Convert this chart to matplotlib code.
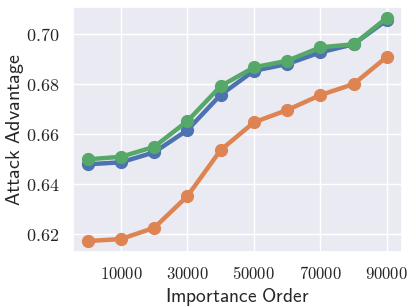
import numpy as np
import matplotlib
matplotlib.use("Agg")
import matplotlib.pyplot as plt
import seaborn as sns

sns.set_theme(style="darkgrid", palette="deep")
plt.rcParams["mathtext.fontset"] = "cm"

order = [0, 10000, 20000, 30000, 40000, 50000, 60000, 70000, 80000, 90000]
blue_vals = [0.6479, 0.6487, 0.6527, 0.6616, 0.6757, 0.6853, 0.6880, 0.6927, 0.6959, 0.7056]
orange_vals = [0.6172, 0.6180, 0.6225, 0.6352, 0.6536, 0.6647, 0.6696, 0.6756, 0.6800, 0.6909]
green_vals = [0.6499, 0.6509, 0.6549, 0.6652, 0.6792, 0.6867, 0.6893, 0.6947, 0.6959, 0.7065]
xticks = [10000, 30000, 50000, 70000, 90000]
yticks = [0.62, 0.64, 0.66, 0.68, 0.70]

colors = sns.color_palette("deep")

fig, ax = plt.subplots(figsize=(4.16, 3.07), dpi=100)
for vals, c in [(blue_vals, colors[0]), (orange_vals, colors[1]), (green_vals, colors[2])]:
    ax.plot(order, vals, color=c, linewidth=3.2, marker="o", markersize=8.5)

ax.set_xticks(xticks)
ax.set_xticklabels([r"$%d$" % t for t in xticks], fontsize=12)
ax.set_yticks(yticks)
ax.set_yticklabels([r"$%.2f$" % t for t in yticks], fontsize=13)
ax.set_ylim(0.6128, 0.7108)
ax.set_xlim(-4500, 94500)

ax.set_xlabel(r"$\mathsf{Importance\ Order}$", fontsize=14, labelpad=2)
ax.set_ylabel(r"$\mathsf{Attack\ Advantage}$", fontsize=14.5)
ax.yaxis.set_label_coords(-0.142, 0.5)

fig.subplots_adjust(left=0.175, right=0.966, top=0.977, bottom=0.179)
fig.savefig("out.png", dpi=100)
